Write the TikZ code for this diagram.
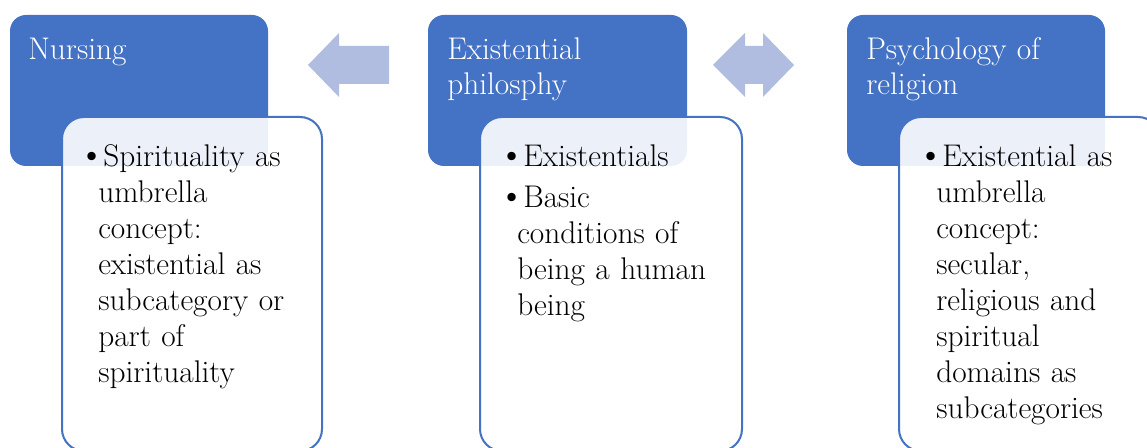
\documentclass[tikz,border=0pt]{standalone}
\usepackage{tikz}
\definecolor{hdblue}{RGB}{68,114,196}
\definecolor{arrblue}{RGB}{176,189,224}
\newcommand{\bul}[1]{\makebox[#1][r]{\raisebox{0.02em}{\scalebox{1.2}{\textbullet}}\hspace{-2pt}}}
\tikzset{
  bluebox/.style={fill=hdblue, draw=none, rounded corners=12pt},
  whitebox/.style={fill=white, fill opacity=0.9, draw=hdblue, draw opacity=1, line width=1.5pt, rounded corners=16.5pt},
  blockarrow/.style={fill=arrblue, draw=none},
  title/.style={font=\fontsize{23.5pt}{26.25pt}\selectfont, text=white, align=left, text width=200pt, inner sep=0pt, anchor=base west},
  body/.style={font=\fontsize{23.5pt}{27pt}\selectfont, text=black, align=left, text width=200pt, inner sep=0pt, anchor=base west}
}
\begin{document}
\begin{tikzpicture}[x=0.75pt,y=-0.75pt]
\useasboundingbox (0,0) rectangle (1147,448);
\clip (0,0) rectangle (1147,448);
% header boxes
\path[bluebox] (10,15) rectangle (268,166);
\path[bluebox] (428,15) rectangle (687,166);
\path[bluebox] (847,15) rectangle (1105,166);
% block arrows
\path[blockarrow] (308,65) -- (339,33) -- (339,46) -- (389,46) -- (389,84) -- (339,84) -- (339,97) -- cycle;
\path[blockarrow] (713,65) -- (745,33) -- (745,46) -- (763,46) -- (763,33) -- (794,65) -- (763,97) -- (763,84) -- (745,84) -- (745,97) -- cycle;
% titles
\node[title] (t1) at (28,60) {Nursing};
\node[title] (t2) at (447,60) {Existential\\philosphy};
\node[title] (t3) at (866,60) {Psychology of\\religion};
% body boxes
\path[whitebox] (62,117) rectangle (322,451);
\path[whitebox] (480,117) rectangle (742,451);
\path[whitebox] (899,117) rectangle (1160,451);
% body texts
\node[body] (b1) at (90,167) {\bul{9.75pt}Spirituality as\\
\hspace*{6pt}umbrella\\
\hspace*{6pt}concept:\\
\hspace*{6pt}existential as\\
\hspace*{6pt}subcategory or\\
\hspace*{6pt}part of\\
\hspace*{6pt}spirituality};
\node[body] (b2) at (508,167) {\bul{11.25pt}Existentials\\[3.75pt]
\bul{11.25pt}Basic\\
\hspace*{6.75pt}conditions of\\
\hspace*{6.75pt}being a human\\
\hspace*{6.75pt}being};
\node[body] (b3) at (927,167) {\bul{11.25pt}Existential as\\
\hspace*{6.75pt}umbrella\\
\hspace*{6.75pt}concept:\\
\hspace*{6.75pt}secular,\\
\hspace*{6.75pt}religious and\\
\hspace*{6.75pt}spiritual\\
\hspace*{6.75pt}domains as\\
\hspace*{6.75pt}subcategories};
\end{tikzpicture}
\end{document}
